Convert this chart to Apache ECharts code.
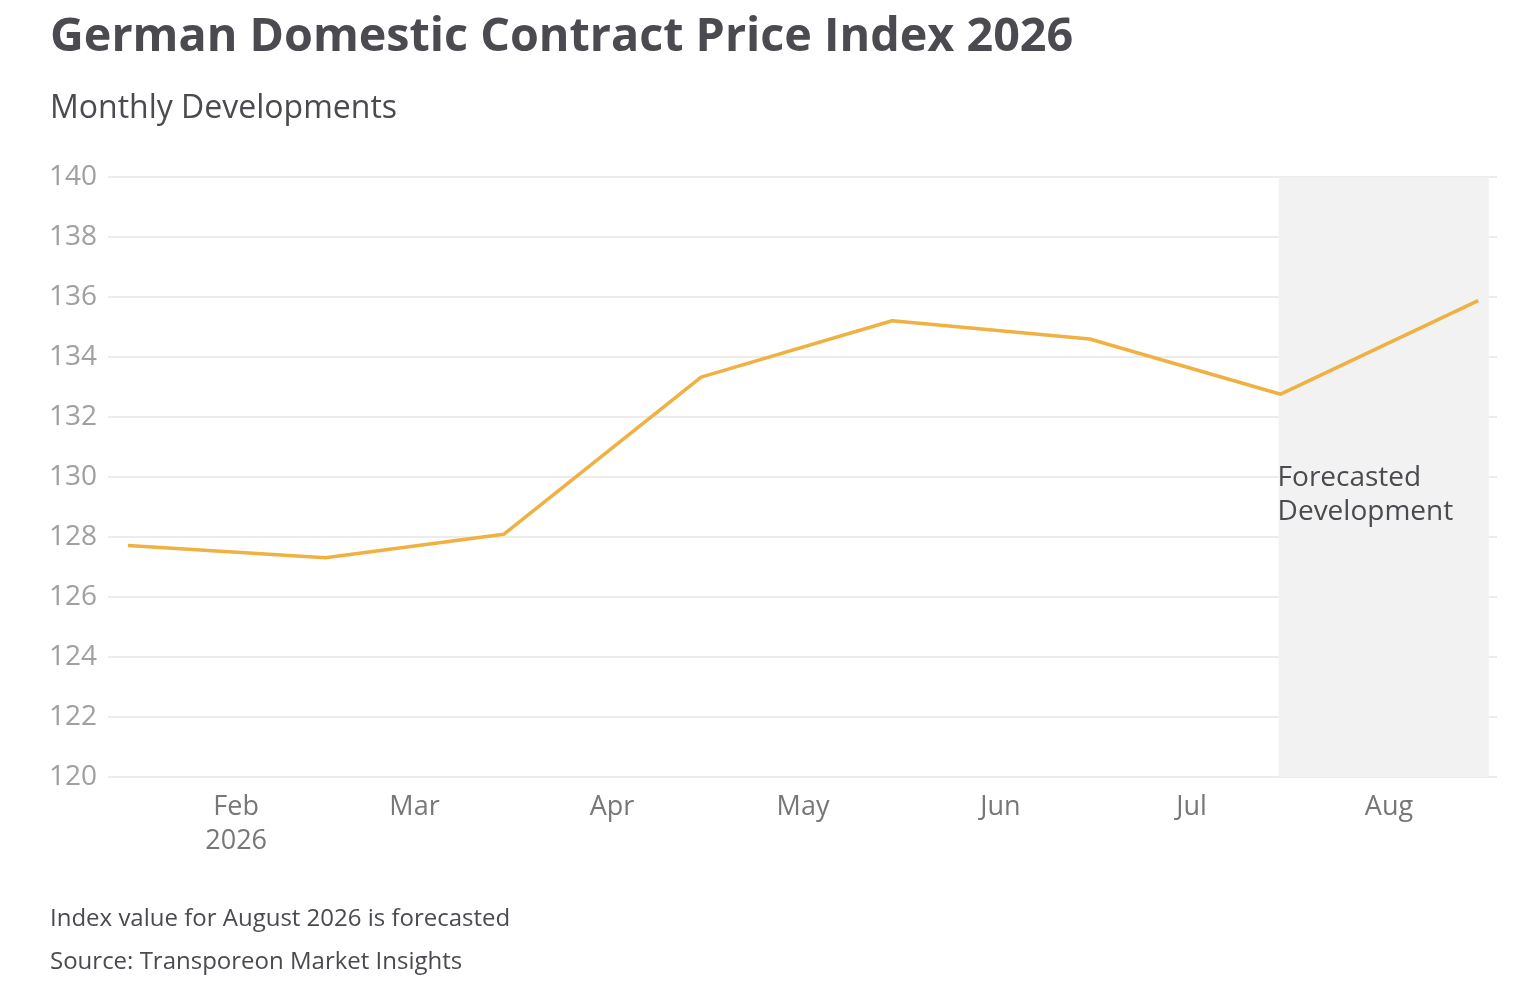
<!DOCTYPE html>
<html style="height: 100%">
<head>
	<meta charset="utf-8">
	<title>German Domestic Contract Price Index 2026</title>
	<script type="text/javascript" src="https://cdn.jsdelivr.net/npm/echarts@6/dist/echarts.min.js"></script>
</head>
<body style="height: 100%; margin: 0; background: #fff">
<div id="container" style="width: 1536px; height: 1002px"></div>
<script type="text/javascript">
	// data
	var monthNames = ['Jan', 'Feb', 'Mar', 'Apr', 'May', 'Jun', 'Jul', 'Aug', 'Sep', 'Oct', 'Nov', 'Dec'];
	var pointDates = ['2026-01-15', '2026-02-15', '2026-03-15', '2026-04-15', '2026-05-15', '2026-06-15', '2026-07-15', '2026-08-15'];
	var indexValues = [127.72, 127.31, 128.09, 133.33, 135.21, 134.6, 132.76, 135.88];
	var yTicks = [120, 122, 124, 126, 128, 130, 132, 134, 136, 138, 140];
	var forecastFrom = '2026-07-15';
	var forecastTo = '2026-08-16';

	function toTime(s, h) {
		var p = s.split('-');
		return new Date(+p[0], +p[1] - 1, +p[2], h || 0).getTime();
	}

	var seriesData = [];
	for (var i = 0; i < pointDates.length; i++) {
		seriesData.push([toTime(pointDates[i]), indexValues[i]]);
	}

	var font = '"Open Sans", "Noto Sans", sans-serif';
	var dom = document.getElementById('container');
	var myChart = echarts.init(dom, null, {renderer: 'canvas'});

	var option = {
		backgroundColor: '#ffffff',
		textStyle: {fontFamily: font},
		animation: false,
		title: [
			{
				text: 'German Domestic Contract Price Index 2026',
				left: 45, top: 9,
				textStyle: {fontSize: 46.7, fontWeight: 'bold', color: '#4a4a50', fontFamily: font}
			},
			{
				text: 'Monthly Developments',
				left: 45, top: 88,
				textStyle: {fontSize: 32, fontWeight: 'normal', color: '#4a4a50', fontFamily: font}
			},
			{
				text: 'Index value for August 2026 is forecasted',
				left: 45, top: 902,
				textStyle: {fontSize: 24, fontWeight: 'normal', color: '#4a4a50', fontFamily: font}
			},
			{
				text: 'Source: Transporeon Market Insights',
				left: 45, top: 945,
				textStyle: {fontSize: 24, fontWeight: 'normal', color: '#4a4a50', fontFamily: font}
			}
		],
		grid: {left: 108, right: 39, top: 177, bottom: 225, containLabel: false},
		xAxis: {
			type: 'time',
			min: toTime('2026-01-11', 21),
			max: toTime('2026-08-17', 23),
			splitNumber: 8,
			minInterval: 28 * 864e5,
			axisLine: {show: false},
			axisTick: {show: false},
			splitLine: {show: false},
			axisLabel: {
				fontSize: 27,
				color: '#777777',
				fontFamily: font,
				margin: 13,
				lineHeight: 34,
				hideOverlap: false,
				formatter: function (val) {
					var d = new Date(val);
					if (d.getDate() !== 1 || d.getHours() !== 0) return '';
					var s = monthNames[d.getMonth()];
					if (d.getMonth() === 1) s += '\n' + d.getFullYear();
					return s;
				}
			}
		},
		yAxis: {
			type: 'value',
			min: yTicks[0],
			max: yTicks[yTicks.length - 1],
			interval: 2,
			axisLine: {show: false},
			axisTick: {show: false},
			splitLine: {lineStyle: {color: '#e6e6e6', width: 1.5}},
			axisLabel: {fontSize: 28, color: '#a0a0a0', fontFamily: font, margin: 11}
		},
		series: [
			{
				name: 'Index',
				type: 'line',
				data: seriesData,
				showSymbol: false,
				symbol: 'none',
				lineStyle: {color: '#f0b042', width: 3.5},
				z: 3,
				markArea: {
					silent: true,
					itemStyle: {color: '#f2f2f2'},
					label: {
						show: true,
						position: 'insideLeft',
						distance: 0,
						offset: [-1, 18],
						fontSize: 28,
						lineHeight: 34,
						color: '#4a4a50',
						fontFamily: font,
						formatter: 'Forecasted\nDevelopment'
					},
					data: [[{xAxis: toTime(forecastFrom, -8)}, {xAxis: toTime(forecastTo, 16)}]]
				}
			}
		]
	};

	myChart.setOption(option);
</script>
</body>
</html>
